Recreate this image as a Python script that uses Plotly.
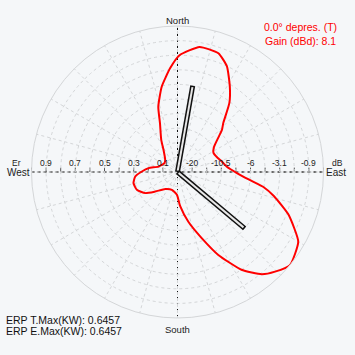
import plotly.graph_objects as go

# ---------------- data ----------------
# Horizontal pattern: bearing (deg, clockwise from North) and relative field
pattern_bearing = [1, 10, 19, 25, 31.5, 37, 43, 46.5, 51, 56, 62, 70, 76, 84, 91, 96,
                   100, 104, 111, 120, 129.6, 135.6, 140.5, 146.8, 153.8, 160, 167.7,
                   175.5, 181.5, 197.5, 215.7, 228.8, 236.8, 246.3, 255.8, 263.9, 270.8,
                   277.7, 286, 304.4, 314.8, 327.8, 333.2, 340.2, 343.6, 349.5, 355.9]
pattern_field = [0.80, 0.87, 0.86, 0.80, 0.686, 0.59, 0.46, 0.42, 0.35, 0.30, 0.279,
                 0.29, 0.31, 0.34, 0.407, 0.49, 0.60, 0.68, 0.814, 0.955, 1.0, 0.955,
                 0.907, 0.80, 0.633, 0.48, 0.349, 0.235, 0.156, 0.128, 0.144, 0.203,
                 0.264, 0.304, 0.311, 0.291, 0.244, 0.20, 0.135, 0.108, 0.119, 0.18,
                 0.247, 0.354, 0.466, 0.594, 0.712]

# Antenna bay orientations (needles)
needle_bearing = [10, 130]
needle_field = [0.6, 0.6]

# Horizontal axis scale
tick_field = [0.1, 0.2, 0.3, 0.4, 0.5, 0.6, 0.7, 0.8, 0.9, 1.0]
label_field = [0.1, 0.3, 0.5, 0.7, 0.9]
west_labels = ["0.1", "0.3", "0.5", "0.7", "0.9"]
east_labels = ["-20", "-10.5", "-6", "-3.1", "-0.9"]

title_lines = ["0.0° depres. (T)", "Gain (dBd): 8.1"]
erp_lines = ["ERP T.Max(KW): 0.6457", "ERP E.Max(KW): 0.6457"]

# ---------------- layout geometry ----------------
W = H = 355
cx, cy, R = 177.5, 172.0, 146.0
dom_x = [(cx - R) / W, (cx + R) / W]
dom_y = [(H - cy - R) / H, (H - cy + R) / H]
FONT = "Liberation Sans, Arial, sans-serif"
GRID = "#d4d6d8"

fig = go.Figure()

# cartesian overlay (covers whole paper, same scale as polar: 1 unit = R px)
fig.add_trace(go.Scatter(x=[-1, 1], y=[0, 0], mode="lines",
                         line=dict(color="#6a6a6a", width=2, dash="dot"),
                         hoverinfo="skip", showlegend=False))
fig.add_trace(go.Scatter(x=[0, 0], y=[-1, 1], mode="lines",
                         line=dict(color="#111111", width=1, dash="dot"),
                         hoverinfo="skip", showlegend=False))
tx, ty = [], []
for f in tick_field:
    for s in (-1, 1):
        tx += [s * f, s * f, None]
        ty += [0, 0.03, None]
fig.add_trace(go.Scatter(x=tx, y=ty, mode="lines",
                         line=dict(color="#555555", width=1),
                         hoverinfo="skip", showlegend=False))

# polar pattern
fig.add_trace(go.Scatterpolar(r=pattern_field + pattern_field[:1],
                              theta=pattern_bearing + pattern_bearing[:1],
                              mode="lines",
                              line=dict(color="#ff0000", width=2, shape="spline", smoothing=0.5),
                              hoverinfo="skip", showlegend=False))
for b, f in zip(needle_bearing, needle_field):
    fig.add_trace(go.Scatterpolar(r=[0, f], theta=[b, b], mode="lines",
                                  line=dict(color="#111111", width=5),
                                  hoverinfo="skip", showlegend=False))
    fig.add_trace(go.Scatterpolar(r=[0.01, f - 0.01], theta=[b, b], mode="lines",
                                  line=dict(color="#e8e8e8", width=2),
                                  hoverinfo="skip", showlegend=False))

ann = []
for f, lw, le in zip(label_field, west_labels, east_labels):
    ann.append(dict(x=-f, y=0.065, text=lw, xref="x", yref="y", showarrow=False,
                    font=dict(size=8.5, color="#222", family=FONT)))
    ann.append(dict(x=f, y=0.065, text=le, xref="x", yref="y", showarrow=False,
                    font=dict(size=8.5, color="#222", family=FONT)))
ann += [
    dict(x=-1.1, y=0.065, text="Er", xref="x", yref="y", showarrow=False,
         font=dict(size=8.5, color="#222", family=FONT)),
    dict(x=1.095, y=0.065, text="dB", xref="x", yref="y", showarrow=False,
         font=dict(size=8.5, color="#222", family=FONT)),
    dict(x=-1.0, y=-0.005, text="West", xref="x", yref="y", showarrow=False,
         xanchor="right", font=dict(size=10, color="#222", family=FONT)),
    dict(x=1.005, y=-0.005, text="East", xref="x", yref="y", showarrow=False,
         xanchor="left", font=dict(size=10, color="#222", family=FONT)),
    dict(x=0, y=1.035, text="North", xref="x", yref="y", showarrow=False,
         font=dict(size=9.5, color="#222", family=FONT)),
    dict(x=0, y=-1.08, text="South", xref="x", yref="y", showarrow=False,
         font=dict(size=9.5, color="#222", family=FONT)),
]
for i, t in enumerate(title_lines):
    ann.append(dict(x=300 / W, y=1 - (26.7 + 14 * i) / H, text=t, xref="paper", yref="paper",
                    showarrow=False, xanchor="center", yanchor="middle",
                    font=dict(size=10.5, color="#ff0000", family=FONT)))
for i, t in enumerate(erp_lines):
    ann.append(dict(x=4 / W, y=1 - (319.5 + 11.5 * i) / H, text=t, xref="paper", yref="paper",
                    showarrow=False, xanchor="left", yanchor="middle",
                    font=dict(size=10.5, color="#111", family=FONT)))

fig.update_layout(
    width=W, height=H, autosize=False,
    margin=dict(l=0, r=0, t=0, b=0),
    paper_bgcolor="#f5f7f9", plot_bgcolor="rgba(0,0,0,0)",
    showlegend=False,
    xaxis=dict(domain=[0, 1], range=[(0 - cx) / R, (W - cx) / R], visible=False,
               fixedrange=True),
    yaxis=dict(domain=[0, 1], range=[(cy - H) / R, cy / R], visible=False,
               fixedrange=True),
    polar=dict(
        domain=dict(x=dom_x, y=dom_y),
        bgcolor="rgba(0,0,0,0)",
        radialaxis=dict(range=[0, 1], tickvals=tick_field, showticklabels=False,
                        ticks="", showline=False, gridcolor=GRID, griddash="dot",
                        gridwidth=1),
        angularaxis=dict(rotation=90, direction="clockwise", dtick=15,
                         showticklabels=False, ticks="", showline=True,
                         linecolor=GRID, linewidth=1,
                         gridcolor=GRID, griddash="dot", gridwidth=1),
    ),
    annotations=ann,
)

fig.write_html("out.html", config={"displayModeBar": False, "staticPlot": True},
               post_script="document.body.style.margin='0';document.body.style.overflow='hidden';")
